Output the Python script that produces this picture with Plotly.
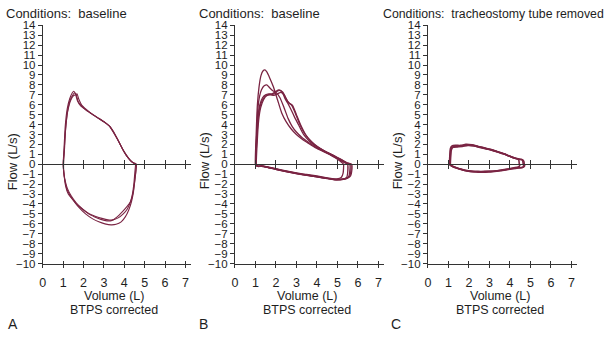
import plotly.graph_objects as go

W, H = 608, 339
COLOR = "#7a2443"
FONT = "Liberation Sans, Arial, sans-serif"
TXT = "#1e1e1e"

# ---------------- data ----------------
titles = ["Conditions:\u00a0 baseline", "Conditions:\u00a0 baseline",
          "Conditions:\u00a0 tracheostomy tube removed"]
panel_letters = ["A", "B", "C"]
x_ticks = [0, 1, 2, 3, 4, 5, 6, 7]
y_ticks = list(range(-10, 15))

# Panel A (volume L, flow L/s), closed loops
a1_vol = [1.00, 1.04, 1.10, 1.20, 1.32, 1.45, 1.52, 1.60, 1.70, 1.85, 2.10, 2.40, 2.70, 3.00, 3.25, 3.45, 3.65, 3.85, 4.05, 4.25, 4.40, 4.52, 4.55,
          4.52, 4.47, 4.40, 4.30, 4.15, 3.95, 3.70, 3.45, 3.20, 2.90, 2.60, 2.30, 2.00, 1.70, 1.45, 1.25, 1.12, 1.04, 1.00]
a1_flow = [0.0, 1.5, 3.8, 5.6, 6.6, 7.2, 7.35, 7.1, 6.4, 5.9, 5.5, 5.1, 4.7, 4.3, 3.9, 3.3, 2.6, 1.8, 1.1, 0.5, 0.2, 0.05, 0.0,
           -0.8, -2.0, -3.0, -3.8, -4.5, -5.0, -5.4, -5.6, -5.6, -5.45, -5.25, -5.0, -4.6, -4.1, -3.5, -3.0, -2.2, -1.0, 0.0]
a2_vol = [1.02, 1.06, 1.12, 1.22, 1.35, 1.48, 1.56, 1.64, 1.74, 1.90, 2.15, 2.45, 2.75, 3.05, 3.30, 3.50, 3.70, 3.90, 4.10, 4.30, 4.45, 4.57, 4.60,
          4.58, 4.52, 4.45, 4.35, 4.22, 4.05, 3.85, 3.60, 3.35, 3.05, 2.75, 2.45, 2.10, 1.75, 1.45, 1.22, 1.10, 1.03, 1.02]
a2_flow = [0.0, 1.3, 3.5, 5.4, 6.5, 7.0, 7.2, 7.0, 6.3, 5.9, 5.4, 5.0, 4.6, 4.2, 3.8, 3.2, 2.4, 1.6, 0.9, 0.4, 0.15, 0.05, 0.0,
           -0.6, -1.6, -2.8, -3.8, -4.6, -5.3, -5.8, -6.05, -6.1, -6.0, -5.8, -5.5, -5.0, -4.3, -3.5, -2.7, -1.8, -0.8, 0.0]
a3_vol = [1.00, 1.05, 1.12, 1.22, 1.36, 1.50, 1.60, 1.68, 1.76, 1.90, 2.15, 2.45, 2.75, 3.05, 3.30, 3.50, 3.70, 3.90, 4.10, 4.30, 4.45, 4.55, 4.58,
          4.56, 4.50, 4.42, 4.30, 4.12, 3.90, 3.65, 3.40, 3.15, 2.85, 2.55, 2.25, 1.95, 1.65, 1.40, 1.20, 1.08, 1.02, 1.00]
a3_flow = [0.0, 1.4, 3.6, 5.3, 6.4, 6.9, 7.0, 7.1, 6.6, 6.0, 5.5, 5.0, 4.6, 4.2, 3.8, 3.1, 2.4, 1.6, 0.9, 0.4, 0.12, 0.03, 0.0,
           -0.8, -1.9, -3.0, -3.8, -4.3, -4.8, -5.3, -5.65, -5.7, -5.55, -5.3, -5.0, -4.5, -3.9, -3.2, -2.4, -1.5, -0.6, 0.0]

# Panel B
b1_vol = [1.00, 1.04, 1.10, 1.18, 1.27, 1.37, 1.47, 1.56, 1.70, 1.88, 2.08, 2.28, 2.50, 2.77, 3.00, 3.30, 3.60, 3.95, 4.30, 4.65, 4.95, 5.20, 5.40, 5.50,
          5.50, 5.45, 5.30, 5.10, 4.90, 4.50, 4.00, 3.50, 3.00, 2.50, 2.00, 1.60, 1.30, 1.10, 1.03, 1.00]
b1_flow = [0.0, 3.0, 6.0, 7.8, 8.9, 9.4, 9.5, 9.3, 8.7, 7.8, 6.5, 5.2, 4.3, 3.5, 3.0, 2.5, 2.1, 1.65, 1.3, 0.95, 0.6, 0.32, 0.1, 0.0,
           -0.9, -1.35, -1.5, -1.55, -1.58, -1.4, -1.22, -1.07, -0.9, -0.7, -0.47, -0.28, -0.18, -0.2, -0.12, 0.0]
b2_vol = [1.02, 1.06, 1.12, 1.20, 1.30, 1.43, 1.56, 1.70, 1.85, 2.00, 2.20, 2.40, 2.60, 2.80, 3.00, 3.30, 3.60, 3.95, 4.30, 4.65, 4.95, 5.20, 5.45, 5.60,
          5.60, 5.55, 5.40, 5.20, 4.95, 4.50, 4.00, 3.50, 3.00, 2.50, 2.00, 1.60, 1.30, 1.12, 1.05, 1.02]
b2_flow = [0.0, 2.8, 5.5, 6.8, 7.5, 7.9, 8.0, 7.7, 7.4, 7.25, 6.7, 5.7, 4.6, 3.8, 3.25, 2.65, 2.2, 1.7, 1.35, 1.0, 0.68, 0.4, 0.12, 0.0,
           -0.8, -1.25, -1.45, -1.5, -1.52, -1.36, -1.18, -1.02, -0.86, -0.66, -0.45, -0.27, -0.16, -0.2, -0.1, 0.0]
b3_vol = [1.02, 1.06, 1.13, 1.22, 1.35, 1.50, 1.65, 1.82, 2.00, 2.15, 2.30, 2.45, 2.58, 2.72, 2.90, 3.10, 3.35, 3.65, 4.00, 4.35, 4.70, 5.00, 5.25, 5.45, 5.65,
          5.65, 5.60, 5.45, 5.25, 5.00, 4.50, 4.00, 3.50, 3.00, 2.50, 2.00, 1.60, 1.30, 1.12, 1.05, 1.02]
b3_flow = [0.0, 2.5, 4.8, 6.0, 6.7, 7.0, 7.1, 7.1, 7.35, 7.5, 7.3, 6.6, 6.15, 5.6, 4.8, 4.0, 3.0, 2.3, 1.75, 1.35, 1.0, 0.68, 0.4, 0.15, 0.0,
           -0.8, -1.2, -1.4, -1.5, -1.55, -1.42, -1.25, -1.1, -0.92, -0.72, -0.5, -0.3, -0.2, -0.22, -0.1, 0.0]
b4_vol = [1.05, 1.09, 1.16, 1.26, 1.40, 1.55, 1.72, 1.90, 2.08, 2.25, 2.40, 2.55, 2.68, 2.82, 3.00, 3.20, 3.45, 3.75, 4.05, 4.40, 4.75, 5.05, 5.30, 5.50, 5.70,
          5.70, 5.65, 5.50, 5.30, 5.00, 4.50, 4.00, 3.50, 3.00, 2.50, 2.00, 1.60, 1.30, 1.15, 1.08, 1.05]
b4_flow = [0.0, 2.2, 4.4, 5.7, 6.5, 6.9, 7.0, 6.95, 7.1, 7.25, 7.0, 6.4, 6.1, 5.9, 5.0, 4.0, 3.0, 2.25, 1.75, 1.3, 0.95, 0.62, 0.35, 0.12, 0.0,
           -0.7, -1.15, -1.4, -1.52, -1.58, -1.45, -1.28, -1.12, -0.95, -0.75, -0.52, -0.32, -0.2, -0.2, -0.1, 0.0]
b5_vol = [1.03, 1.07, 1.14, 1.24, 1.38, 1.54, 1.70, 1.86, 2.02, 2.18, 2.34, 2.48, 2.62, 2.76, 2.94, 3.15, 3.40, 3.70, 4.00, 4.30, 4.60, 4.85, 5.05, 5.20, 5.30,
          5.28, 5.20, 5.05, 4.85, 4.50, 4.00, 3.50, 3.00, 2.50, 2.00, 1.60, 1.30, 1.15, 1.07, 1.03]
b5_flow = [0.0, 2.4, 4.7, 5.9, 6.6, 6.95, 7.05, 7.05, 7.3, 7.45, 7.25, 6.7, 6.2, 6.0, 5.2, 4.1, 3.1, 2.35, 1.8, 1.4, 1.05, 0.75, 0.45, 0.2, 0.0,
           -0.9, -1.3, -1.45, -1.5, -1.42, -1.26, -1.1, -0.93, -0.73, -0.5, -0.3, -0.18, -0.22, -0.1, 0.0]

# Panel C
c1_vol = [1.08, 1.09, 1.12, 1.20, 1.40, 1.65, 1.90, 2.20, 2.50, 2.80, 3.10, 3.40, 3.70, 4.00, 4.25, 4.45, 4.60, 4.68, 4.70,
          4.72, 4.65, 4.45, 4.20, 3.90, 3.60, 3.30, 3.00, 2.70, 2.40, 2.10, 1.80, 1.55, 1.35, 1.20, 1.10, 1.08]
c1_flow = [0.0, 0.8, 1.5, 1.75, 1.8, 1.85, 1.95, 1.9, 1.75, 1.6, 1.45, 1.25, 1.05, 0.8, 0.6, 0.5, 0.45, 0.3, 0.0,
           -0.15, -0.3, -0.35, -0.4, -0.5, -0.6, -0.68, -0.72, -0.75, -0.76, -0.72, -0.62, -0.48, -0.35, -0.22, -0.1, 0.0]
c2_vol = [1.06, 1.07, 1.10, 1.18, 1.35, 1.60, 1.85, 2.15, 2.45, 2.75, 3.05, 3.35, 3.65, 3.95, 4.20, 4.40, 4.55, 4.62, 4.65,
          4.68, 4.60, 4.40, 4.15, 3.85, 3.55, 3.25, 2.95, 2.65, 2.35, 2.05, 1.75, 1.50, 1.30, 1.16, 1.08, 1.06]
c2_flow = [0.0, 0.9, 1.6, 1.85, 1.9, 1.9, 2.0, 1.95, 1.8, 1.65, 1.5, 1.3, 1.1, 0.85, 0.65, 0.55, 0.5, 0.4, 0.0,
           -0.2, -0.32, -0.38, -0.45, -0.55, -0.65, -0.72, -0.78, -0.8, -0.78, -0.72, -0.6, -0.45, -0.3, -0.18, -0.08, 0.0]
c3_vol = [1.10, 1.11, 1.14, 1.22, 1.42, 1.68, 1.95, 2.25, 2.55, 2.85, 3.15, 3.45, 3.75, 4.00, 4.20, 4.35, 4.43, 4.46,
          4.48, 4.40, 4.20, 3.95, 3.65, 3.35, 3.05, 2.75, 2.45, 2.15, 1.85, 1.60, 1.40, 1.24, 1.14, 1.10]
c3_flow = [0.0, 0.7, 1.4, 1.7, 1.75, 1.8, 1.9, 1.85, 1.7, 1.55, 1.4, 1.2, 1.0, 0.8, 0.65, 0.55, 0.45, 0.0,
           -0.15, -0.28, -0.35, -0.45, -0.55, -0.65, -0.7, -0.72, -0.72, -0.68, -0.6, -0.48, -0.35, -0.22, -0.1, 0.0]

panel_loops = [
    [(a1_vol, a1_flow), (a2_vol, a2_flow), (a3_vol, a3_flow)],
    [(b1_vol, b1_flow), (b2_vol, b2_flow), (b3_vol, b3_flow), (b4_vol, b4_flow), (b5_vol, b5_flow)],
    [(c1_vol, c1_flow), (c2_vol, c2_flow), (c3_vol, c3_flow)],
]
line_widths = [1.1, 1.3, 1.6]

# ---------------- layout geometry ----------------
def px_x(p):
    return p / W

def px_y(p):
    return 1 - p / H

Y_RANGE = [-10, 14]
X_RANGE = [0, 7.28]
ydom = [px_y(267), px_y(20)]
xdoms = [[px_x(40), px_x(189)], [px_x(233), px_x(383)], [px_x(427), px_x(577)]]
zero_pos = ydom[0] + (0 - Y_RANGE[0]) / (Y_RANGE[1] - Y_RANGE[0]) * (ydom[1] - ydom[0])
title_x_px = [1, 195, 388]
letter_x_px = [3, 195, 388]
ylab_x_px = [9, 202, 396]

fig = go.Figure()
layout = dict(
    width=W, height=H, margin=dict(l=0, r=0, t=0, b=0),
    paper_bgcolor="white", plot_bgcolor="white", showlegend=False,
    font=dict(family=FONT, size=12, color=TXT),
    annotations=[],
)

axis_line = dict(showline=True, linecolor="#333333", linewidth=1, tickcolor="#333333",
                 showgrid=False, zeroline=False)

extra = 4
for i in range(3):
    sfx = "" if i == 0 else str(i + 1)
    xref = "x" + sfx
    yref = "y" + sfx
    for vol, flow in panel_loops[i]:
        fig.add_trace(go.Scatter(x=vol, y=flow, xaxis=xref, yaxis=yref, mode="lines",
                                 line=dict(color=COLOR, width=line_widths[i], shape="spline", smoothing=0.5),
                                 hoverinfo="skip"))
    layout["xaxis" + sfx] = dict(domain=xdoms[i], range=X_RANGE, anchor=yref, tickmode="array",
                                 tickvals=x_ticks, ticks="outside", ticklen=3, ticklabelstandoff=4,
                                 tickfont=dict(size=12.5), fixedrange=True, **axis_line)
    layout["yaxis" + sfx] = dict(domain=ydom, range=Y_RANGE, anchor=xref, tickmode="array",
                                 tickvals=y_ticks, ticks="outside", ticklen=4,
                                 tickfont=dict(size=11.5), fixedrange=True, **axis_line)
    # extra tick axes: bottom inside, zero-line outside & inside
    for pos, tk, line in [(ydom[0], "inside", False), (zero_pos, "outside", True), (zero_pos, "inside", False)]:
        name = "xaxis%d" % extra
        layout[name] = dict(overlaying=xref, anchor="free", position=pos, range=X_RANGE,
                            tickmode="array", tickvals=x_ticks, ticks=tk, ticklen=4 if pos == zero_pos else 3,
                            showticklabels=False, showline=line, linecolor="#333333", tickcolor="#333333",
                            showgrid=False, zeroline=False, fixedrange=True)
        fig.add_trace(go.Scatter(x=[], y=[], xaxis="x%d" % extra, yaxis=yref, hoverinfo="skip"))
        extra += 1

    ann = layout["annotations"]
    if i < 2:
        ann.append(dict(text=titles[i], x=px_x(title_x_px[i]), y=px_y(8), xref="paper", yref="paper",
                        xanchor="left", yanchor="middle", showarrow=False, font=dict(size=13)))
    else:
        ann.append(dict(text=titles[i], x=px_x(606), y=px_y(8), xref="paper", yref="paper",
                        xanchor="right", yanchor="middle", showarrow=False, font=dict(size=12.3)))
    ann.append(dict(text="Flow (L/s)", x=px_x(ylab_x_px[i]), y=px_y(161), xref="paper", yref="paper",
                    xanchor="center", yanchor="middle", textangle=-90, showarrow=False, font=dict(size=13)))
    ann.append(dict(text="Volume (L)", x=3.5, y=px_y(301), xref=xref, yref="paper",
                    xanchor="center", yanchor="middle", showarrow=False, font=dict(size=12.5)))
    ann.append(dict(text="BTPS corrected", x=3.5, y=px_y(315), xref=xref, yref="paper",
                    xanchor="center", yanchor="middle", showarrow=False, font=dict(size=12.5)))
    ann.append(dict(text=panel_letters[i], x=px_x(letter_x_px[i]), y=px_y(330), xref="paper", yref="paper",
                    xanchor="left", yanchor="middle", showarrow=False, font=dict(size=14)))

fig.update_layout(**layout)
fig.write_html("out.html")
